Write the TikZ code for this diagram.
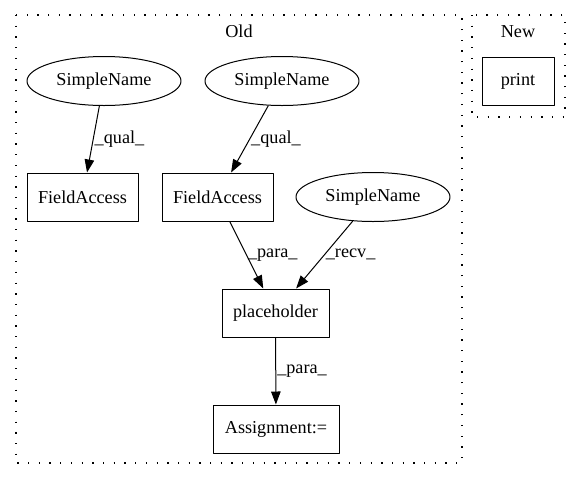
\documentclass[tikz,border=0pt]{standalone}
\usepackage{fontspec}
\setmainfont{Liberation Serif}
\usetikzlibrary{arrows.meta,shapes.geometric}

\begin{document}
\begin{tikzpicture}[x=1pt,y=-1pt,>={Triangle[length=13pt,width=9.5pt]}, font=\fontsize{18.2}{22}\selectfont, line join=round]
	\def\lw{1pt}
	\tikzset{box/.style={draw,line width=\lw,rectangle,minimum height=48pt,inner sep=0pt},
		oval/.style={draw,line width=\lw,ellipse,minimum width=154pt,minimum height=49pt,inner sep=0pt},
		cluster/.style={line width=1.3pt,dash pattern=on 1.3pt off 9.4pt},
		edge/.style={->,line width=\lw},
		lbl/.style={midway,right,inner sep=1pt}}
	\useasboundingbox (0,0) rectangle (581,480);
	%\draw[gray!50,dashed] (0,0) grid[step=50] (581,480);
	\draw[cluster] (16,15) rectangle (462,463);
	\draw[cluster] (472,15) rectangle (565,117);
	\node (old) at (239,31) {Old};
	\node (new) at (518,32) {New};
	\node[oval] (sn1) at (104,81) {SimpleName};
	\node[oval] (sn2) at (282,81) {SimpleName};
	\node[oval] (sn3) at (373,197) {SimpleName};
	\node[box,minimum width=111pt] (fa1) at (82.5,197) {FieldAccess};
	\node[box,minimum width=111pt] (fa2) at (217.5,197) {FieldAccess};
	\node[box,minimum width=107pt] (ph) at (275.5,313) {placeholder};
	\node[box,minimum width=126pt] (asg) at (276,429) {Assignment:=};
	\node[box,minimum width=72pt] (prt) at (518,81) {print};
	\draw[edge] (sn1)--(fa1) node[lbl]{\_qual\_};
	\draw[edge] (sn2)--(fa2) node[lbl]{\_qual\_};
	\draw[edge] (fa2)--(ph) node[lbl]{\_para\_};
	\draw[edge] (sn3)--(ph) node[lbl]{\_recv\_};
	\draw[edge] (ph)--(asg) node[lbl]{\_para\_};
\end{tikzpicture}
\end{document}
